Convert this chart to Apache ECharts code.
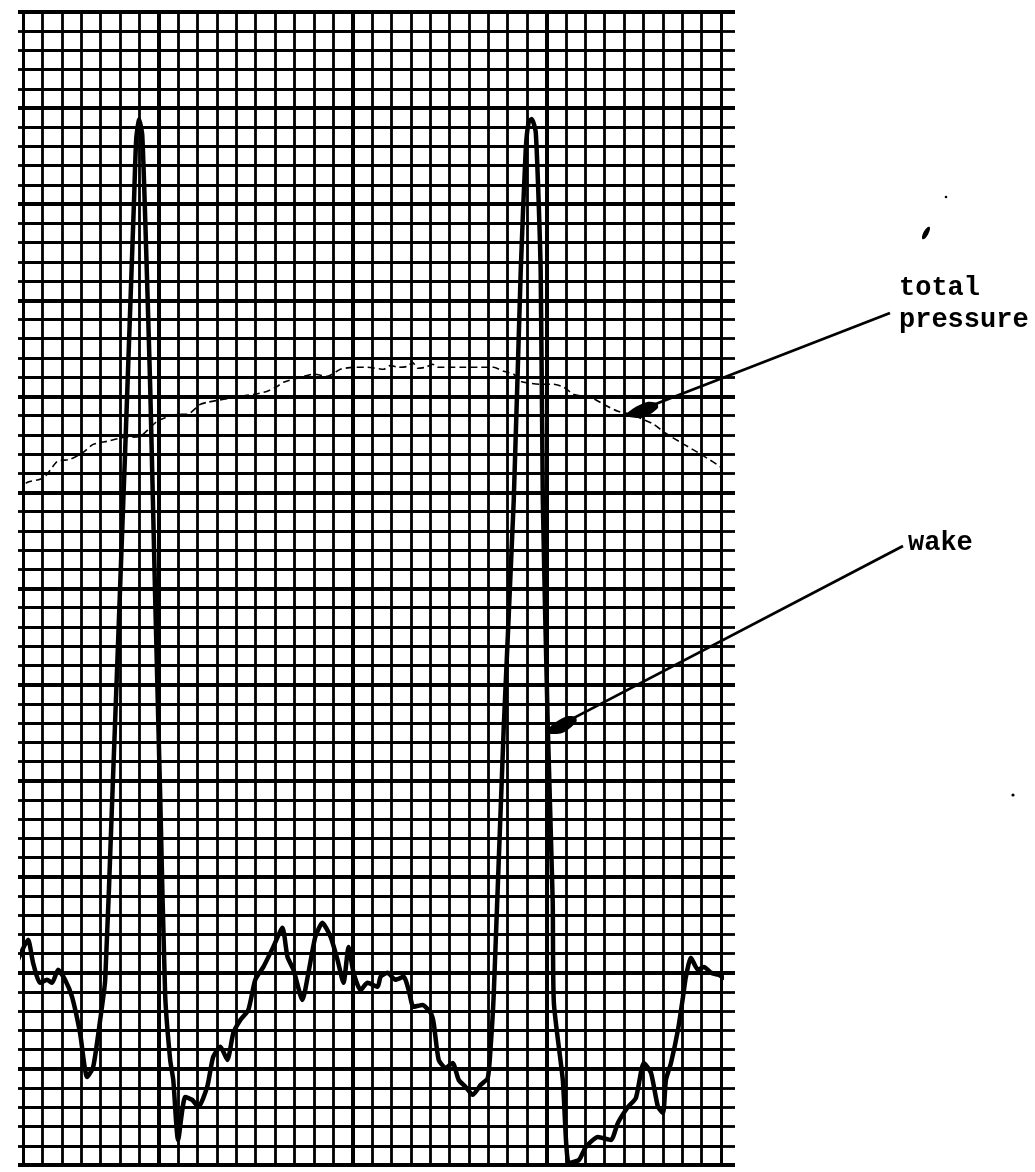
<!DOCTYPE html>
<html><head><meta charset="utf-8">
<script src="https://cdn.jsdelivr.net/npm/echarts/dist/echarts.min.js"></script>
<style>html,body{margin:0;padding:0;background:#fff}#c{width:1035px;height:1172px}</style>
</head><body><div id="c"></div>
<script>
// chart paper: 36 x 60 cells
const wakeX = [-0.57,-0.26,0.26,0.52,0.88,1.24,1.50,1.81,2.17,2.53,2.94,3.31,3.62,3.98,4.24,4.60,5.27,5.73,5.84,5.99,6.15,6.35,6.56,6.82,7.08,7.33,7.59,7.75,8.00,8.37,8.73,9.04,9.50,9.81,10.18,10.54,10.85,11.21,11.62,11.98,12.40,12.91,13.38,13.64,13.95,14.41,14.72,15.08,15.44,15.86,16.22,16.53,16.79,17.05,17.41,17.77,18.29,18.44,18.80,19.21,19.63,19.89,20.14,20.61,21.02,21.18,21.44,21.80,22.16,22.47,22.83,23.19,23.61,23.97,24.12,24.28,24.79,25.31,25.67,25.93,26.08,26.24,26.45,26.70,26.81,27.07,27.32,27.38,27.84,28.15,28.67,29.03,29.65,30.32,30.68,31.20,31.61,32.02,32.39,32.75,33.01,33.16,33.42,33.78,34.04,34.19,34.45,34.81,35.12,35.49,35.85,36.16];
const wakeY = [9.79,10.68,11.72,10.52,9.48,9.64,9.48,10.16,9.64,8.75,6.88,4.58,5.10,7.55,9.64,19.0,37.2,50.3,53.4,54.4,53.6,47.7,40.5,29.4,19.0,8.9,5.47,4.43,1.30,3.54,3.39,3.02,4.06,5.63,6.15,5.47,6.88,7.55,8.07,9.64,10.31,11.35,12.34,10.83,10.16,8.59,10.0,11.88,12.60,11.88,10.68,9.48,11.35,10.0,9.11,9.48,9.27,9.79,10.0,9.64,9.79,9.11,8.23,8.33,7.92,7.40,5.47,5.05,5.31,4.43,4.06,3.65,4.17,4.53,6.15,8.91,22.66,34.58,46.51,52.86,54.27,54.43,53.70,46.51,34.58,22.66,13.70,8.44,4.43,0.10,0.26,0.94,1.46,1.30,2.19,3.02,3.49,5.31,4.79,3.02,2.71,4.43,5.31,7.03,8.75,9.79,10.78,10.16,10.31,10.0,9.90,9.74];
const totalX = [-0.26,0.21,0.88,1.24,1.76,2.43,3.10,3.62,4.34,5.17,6.04,6.92,7.95,8.47,9.14,9.50,11.21,11.88,12.60,13.12,13.43,14.31,14.98,15.70,16.37,17.05,17.77,18.60,18.96,19.32,19.83,20.09,20.35,20.76,21.13,21.38,22.06,22.73,23.61,24.28,24.79,25.31,25.67,26.70,27.38,27.89,28.41,28.93,29.29,29.96,30.68,31.35,32.54,33.06,34.09,34.97,36.16,36.52];
const totalY = [35.05,35.52,35.68,35.94,36.61,36.72,37.08,37.50,37.66,37.86,37.92,38.70,39.06,39.06,39.58,39.69,40.0,40.10,40.26,40.52,40.73,40.99,41.15,41.04,41.41,41.51,41.51,41.41,41.61,41.51,41.56,41.77,41.46,41.51,41.67,41.51,41.51,41.51,41.51,41.51,41.30,41.15,40.78,40.63,40.63,40.47,40.10,40.0,39.95,39.58,39.22,39.06,38.54,38.13,37.50,36.98,36.20,35.78];
const heavyX = [7, 17, 27];
const labelTexts = ['total', 'pressure', 'wake'];
// annotation anchor points (data coords on the curves)
const tipTotal = [31.1, 39.0];
const tipWake = [26.96, 22.5];

const zip = (xs, ys) => xs.map((x, i) => [x, ys[i]]);
const BLACK = '#000';
const MINOR = 2.8, MAJOR = 4;
const chart = echarts.init(document.getElementById('c'));
function yAx(pos, len, grid) {
  return {
    type: 'value', position: pos, min: 0, max: 60, interval: 5,
    axisLine: { show: true, onZero: false, lineStyle: { color: BLACK, width: MINOR } },
    axisTick: { show: true, inside: false, length: len, lineStyle: { color: BLACK, width: MAJOR } },
    minorTick: { show: true, splitNumber: 5, length: len, lineStyle: { color: BLACK, width: MINOR } },
    axisLabel: { show: false },
    splitLine: { show: grid, lineStyle: { color: BLACK, width: MAJOR } },
    minorSplitLine: { show: grid, lineStyle: { color: BLACK, width: MINOR } }
  };
}
chart.setOption({
  animation: false,
  backgroundColor: '#fff',
  grid: { left: 23, top: 12, width: 698, height: 1153 },
  xAxis: {
    type: 'value', min: 0, max: 36, interval: 1,
    axisLine: { show: true, lineStyle: { color: BLACK, width: MAJOR } },
    axisTick: { show: false }, axisLabel: { show: false },
    splitLine: { show: true, lineStyle: { color: BLACK, width: MINOR } }
  },
  yAxis: [yAx('left', 5, true), yAx('right', 14, false)],
  series: [{
    type: 'line', data: [], z: 1, silent: true,
    markLine: {
      symbol: 'none', silent: true, label: { show: false },
      lineStyle: { color: BLACK, width: MAJOR, type: 'solid' },
      data: heavyX.map(x => ({ xAxis: x }))
    }
  }, {
    name: 'total pressure', type: 'line', data: zip(totalX, totalY), z: 4,
    showSymbol: false, clip: false, smooth: 0.2,
    lineStyle: { color: BLACK, width: 1.6, type: [7, 4] }
  }, {
    name: 'wake', type: 'line', data: zip(wakeX, wakeY), z: 5,
    showSymbol: false, clip: false, smooth: 0.2,
    lineStyle: { color: BLACK, width: 4.5, cap: 'round', join: 'round' }
  }]
});

function arrow(tail, tip) {
  const dx = tail[0] - tip[0], dy = tail[1] - tip[1];
  const len = Math.hypot(dx, dy), ux = dx / len, uy = dy / len;
  const nx = -uy, ny = ux, L = 32, W = 8;
  const at = (a, b) => [tip[0] + ux * a + nx * b, tip[1] + uy * a + ny * b];
  return [{
    type: 'line', silent: true, z: 20,
    shape: { x1: tail[0], y1: tail[1], x2: tip[0], y2: tip[1] },
    style: { stroke: BLACK, lineWidth: 2.8 }
  }, {
    type: 'polygon', silent: true, z: 21,
    shape: { smooth: 0.3, points: [tip, at(L * 0.45, W), at(L, W * 0.6), at(L * 1.05, 0), at(L * 0.8, -W * 0.6), at(L * 0.3, -W * 0.5)] },
    style: { fill: BLACK }
  }];
}
const pT = chart.convertToPixel({ xAxisIndex: 0, yAxisIndex: 0 }, tipTotal);
const pW = chart.convertToPixel({ xAxisIndex: 0, yAxisIndex: 0 }, tipWake);
const font = 'bold 27px "Liberation Mono", "Courier New", monospace';
chart.setOption({
  graphic: [
    ...arrow([890, 313], pT),
    ...arrow([903, 546], pW),
    { type: 'text', silent: true, style: { text: labelTexts[0], x: 899, y: 302, font: font, fill: BLACK, verticalAlign: 'bottom' } },
    { type: 'text', silent: true, style: { text: labelTexts[1], x: 899, y: 334, font: font, fill: BLACK, verticalAlign: 'bottom' } },
    { type: 'text', silent: true, style: { text: labelTexts[2], x: 908, y: 557, font: font, fill: BLACK, verticalAlign: 'bottom' } },
    { type: 'ellipse', silent: true, rotation: -0.5, x: 926, y: 233, shape: { cx: 0, cy: 0, rx: 2.5, ry: 7 }, style: { fill: BLACK } },
    { type: 'circle', silent: true, shape: { cx: 946, cy: 197, r: 1.3 }, style: { fill: BLACK } },
    { type: 'circle', silent: true, shape: { cx: 1013, cy: 795, r: 1.6 }, style: { fill: BLACK } }
  ]
});
</script></body></html>
